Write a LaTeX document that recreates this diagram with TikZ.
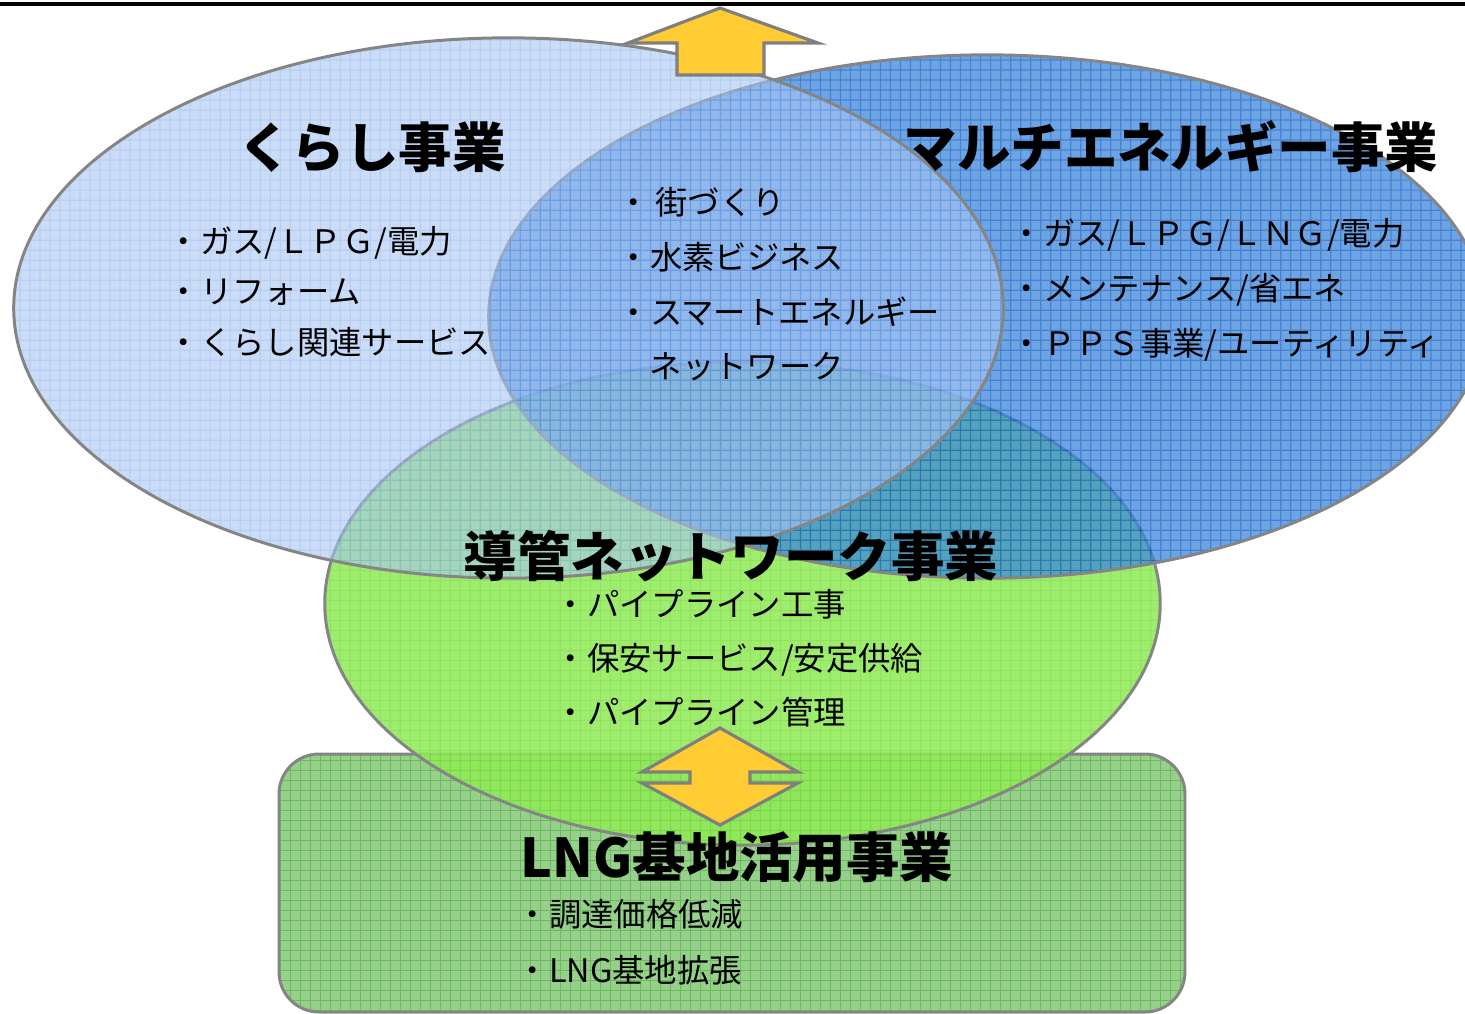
\documentclass[tikz,border=0pt]{standalone}
\usepackage{fontspec}
\setmainfont{Noto Sans CJK JP}
\definecolor{outgray}{HTML}{858585}
\definecolor{arrowgray}{HTML}{7F7F7F}
\definecolor{arrowfill}{HTML}{FFCC33}
\definecolor{rectfill}{HTML}{97D08A}
\definecolor{rectgrid}{HTML}{6ABA5E}
\definecolor{greenfill}{HTML}{8FEB55}
\definecolor{greengrid}{HTML}{80DE45}
\definecolor{bluetwofill}{HTML}{3D88DC}
\definecolor{bluetwogrid}{HTML}{0A58C4}
\definecolor{blueonefill}{HTML}{A9C6F2}
\definecolor{blueonegrid}{HTML}{86AEEE}
\begin{document}
\begin{tikzpicture}[x=0.01cm,y=-0.01cm,
  outl/.style={draw=outgray, line width=0.85pt},
  gridl/.style={line width=0.35pt},
  body/.style={anchor=base west, inner sep=0pt, font=\fontsize{9.2}{11}\selectfont},
  titletext/.style={anchor=base, inner sep=0pt, font=\fontsize{15.2}{18}\bfseries\selectfont},
  arrowshape/.style={fill=arrowfill, draw=arrowgray, line width=0.9pt, line join=miter}]
\clip (0,0) rectangle (1465,1014);
\fill[white] (0,0) rectangle (1465,1014);

% LNG rounded rectangle
\begin{scope}
  \clip[rounded corners=0.4cm] (279,754) rectangle (1185,1012);
  \fill[rectfill] (270,745) rectangle (1195,1014);
  \draw[gridl, rectgrid, step=0.1cm] (270,745) grid (1195,1014);
\end{scope}
\draw[outl, rounded corners=0.4cm] (279,754) rectangle (1185,1012);

% green ellipse
\begin{scope}[transparency group, opacity=0.85]
  \begin{scope}
    \clip (742.5,603.5) ellipse [x radius=4.175cm, y radius=2.415cm];
    \fill[greenfill] (300,350) rectangle (1200,860);
    \draw[gridl, greengrid, step=0.1cm] (300,350) grid (1200,860);
  \end{scope}
\end{scope}
\draw[outl] (742.5,603.5) ellipse [x radius=4.175cm, y radius=2.415cm];

% blue ellipse 2 (multi energy)
\begin{scope}[transparency group, opacity=0.75]
  \begin{scope}
    \clip (987,316.5) ellipse [x radius=4.98cm, y radius=2.615cm];
    \fill[bluetwofill] (480,40) rectangle (1500,600);
    \draw[gridl, bluetwogrid, step=0.1cm] (480,40) grid (1500,600);
  \end{scope}
\end{scope}
\draw[outl] (987,316.5) ellipse [x radius=4.98cm, y radius=2.615cm];

% blue ellipse 1 (kurashi)
\begin{scope}[transparency group, opacity=0.6]
  \begin{scope}
    \clip (508.5,308) ellipse [x radius=4.945cm, y radius=2.70cm];
    \fill[blueonefill] (0,30) rectangle (1010,590);
    \draw[gridl, blueonegrid, step=0.1cm] (0,30) grid (1010,590);
  \end{scope}
\end{scope}
\draw[outl] (508.5,308) ellipse [x radius=4.945cm, y radius=2.70cm];

% top line
\draw[black, line width=1.15pt] (0,4) -- (1465,4);

% arrows
\draw[arrowshape] (720,8) -- (818,43) -- (764,43) -- (764,75) -- (677,75) -- (677,43) -- (628,43) -- cycle;
\draw[arrowshape] (720,728) -- (798,772) -- (750,772) -- (750,783) -- (798,783) -- (720,825)
  -- (642,783) -- (690,783) -- (690,772) -- (642,772) -- cycle;

% titles
\node[titletext] (t1) at (372,167) {くらし事業};
\node[titletext] (t2) at (1171,167) {マルチエネルギー事業};
\node[titletext] (t3) at (731,576) {導管ネットワーク事業};
\node[titletext] (t4) at (737,877) {LNG基地活用事業};

% kurashi items
\node[body] (a1) at (167,253) {・ガス/ＬＰＧ/電力};
\node[body] (a2) at (167,303) {・リフォーム};
\node[body] (a3) at (167,354) {・くらし関連サービス};

% centre items
\node[body] (b1) at (617,214) {・\,街づくり};
\node[body] (b2) at (617,269) {・水素ビジネス};
\node[body] (b3) at (617,324) {・スマートエネルギー};
\node[body] (b4) at (649,378) {ネットワーク};

% multi energy items
\node[body] (c1) at (1010,245) {・ガス/ＬＰＧ/ＬＮＧ/電力};
\node[body] (c2) at (1010,300) {・メンテナンス/省エネ};
\node[body] (c3) at (1010,355) {・ＰＰＳ事業/ユーティリティ};

% pipeline items
\node[body] (d1) at (554,616) {・パイプライン工事};
\node[body] (d2) at (554,670) {・保安サービス/安定供給};
\node[body] (d3) at (554,724) {・パイプライン管理};

% LNG items
\node[body] (e1) at (516,926) {・調達価格低減};
\node[body] (e2) at (516,982) {・LNG基地拡張};
\end{tikzpicture}
\end{document}
